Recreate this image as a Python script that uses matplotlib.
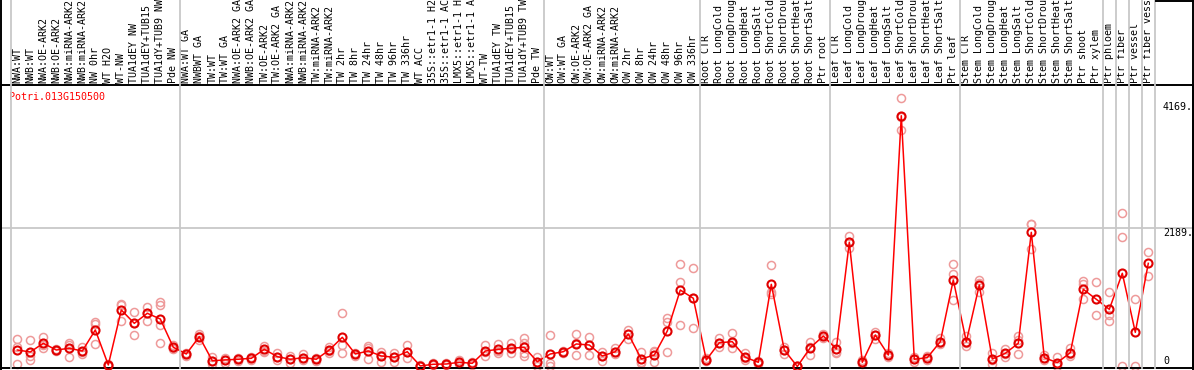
import matplotlib
matplotlib.use("Agg")
import matplotlib.pyplot as plt
from matplotlib.lines import Line2D
from matplotlib.transforms import blended_transform_factory

gene = "Potri.013G150500"

samples = [
    "NWA:WT", "NWB:WT", "NWA:OE-ARK2", "NWB:OE-ARK2", "NWA:miRNA-ARK2", "NWB:miRNA-ARK2",
    "NW 0hr", "WT H2O", "WT-NW", "TUA1dEY NW", "TUA1dEY+TUB15 NW", "TUA1dY+TUB9 NW", "Pde NW",
    "NWA:WT GA", "NWBWT GA", "TW:WT", "TW:WT GA", "NWA:OE-ARK2 GA", "NWB:OE-ARK2 GA",
    "TW:OE-ARK2", "TW:OE-ARK2 GA", "NWA:miRNA-ARK2", "NWB:miRNA-ARK2", "TW:miRNA-ARK2",
    "TW:miRNA-ARK2", "TW 2hr", "TW 8hr", "TW 24hr", "TW 48hr", "TW 96hr", "TW 336hr",
    "WT ACC", "35S::etr1-1 H2O", "35S::etr1-1 ACC", "LMX5::etr1-1 H2O", "LMX5::etr1-1 ACC",
    "WT-TW", "TUA1dEY TW", "TUA1dEY+TUB15 TW", "TUA1dY+TUB9 TW", "Pde TW",
    "OW:WT", "OW:WT GA", "OW:OE-ARK2", "OW:OE-ARK2 GA", "OW:miRNA-ARK2", "OW:miRNA-ARK2",
    "OW 2hr", "OW 8hr", "OW 24hr", "OW 48hr", "OW 96hr", "OW 336hr",
    "Root CTR", "Root LongCold", "Root LongDrought", "Root LongHeat", "Root LongSalt",
    "Root ShortCold", "Root ShortDrought", "Root ShortHeat", "Root ShortSalt", "Ptr root",
    "Leaf CTR", "Leaf LongCold", "Leaf LongDrought", "Leaf LongHeat", "Leaf LongSalt",
    "Leaf ShortCold", "Leaf ShortDrought", "Leaf ShortHeat", "Leaf ShortSalt", "Ptr leaf",
    "Stem CTR", "Stem LongCold", "Stem LongDrought", "Stem LongHeat", "Stem LongSalt",
    "Stem ShortCold", "Stem ShortDrought", "Stem ShortHeat", "Stem ShortSalt",
    "Ptr shoot", "Ptr xylem", "Ptr phloem", "Ptr fiber", "Ptr vessel", "Ptr fiber vessel",
]

means = [
    260, 229, 366, 260, 287, 244, 576, 24, 891, 681, 839, 749, 303,
    197, 470, 91, 103, 114, 129, 271, 155, 114, 139, 114, 260, 460, 197, 244, 166, 145, 233,
    8, 35, 39, 66, 50, 244, 271, 287, 303, 76,
    197, 233, 355, 339, 166, 233, 513, 118, 181, 560, 1206, 1076,
    103, 375, 391, 145, 66, 1296, 260, 0, 296, 481,
    276, 1959, 66, 497, 181, 3955, 114, 139, 391, 1364,
    391, 1285, 118, 208, 366, 2116, 139, 60, 218, 1217, 1060,
    902, 1470, 539, 1627,
]

replicates = [
    [429, 312, 35], [418, 166, 103], [470, 292, 339], [276, 244, 260], [366, 155, 339],
    [312, 197, 229], [707, 670, 355], [39, 8, 16], [970, 722, 986], [864, 497, 686],
    [943, 722, 844], [1022, 970, 654, 375], [339, 276, 292],
    [197, 218, 173], [508, 418, 481], [150, 39, 87], [134, 55, 110], [134, 87, 118],
    [150, 103, 134], [328, 229, 252], [218, 103, 150], [166, 55, 118], [197, 103, 134],
    [134, 87, 118], [312, 218, 252], [839, 339, 208], [218, 173, 197], [328, 114, 292],
    [233, 76, 181], [218, 76, 142], [339, 129, 229],
    [0, 16, 8], [47, 16, 39], [55, 24, 39], [95, 39, 63], [76, 24, 50],
    [339, 166, 229], [355, 208, 249], [375, 208, 276], [445, 375, 208, 166], [155, 0, 71],
    [497, 50, 8], [249, 218, 233], [513, 181, 375], [460, 181, 339], [233, 87, 166],
    [287, 197, 221], [576, 429, 513], [233, 66, 55], [249, 66, 229], [760, 707, 224],
    [1616, 1337, 650], [1549, 602, 1076],
    [126, 87, 95], [445, 312, 375], [524, 296, 363], [208, 103, 134], [87, 39, 71],
    [1601, 1180, 1143], [312, 197, 260], [2, 0, 4], [391, 181, 308], [513, 449, 481],
    [391, 213, 229], [2058, 1864, 1959], [103, 39, 66], [549, 429, 497], [213, 150, 181],
    [4230, 3730, 3935], [142, 76, 118], [173, 103, 139], [445, 355, 378], [1612, 1454, 1049],
    [481, 328, 371], [1364, 1180, 1317], [218, 39, 103], [271, 150, 197], [481, 192, 418],
    [2243, 1853, 2252], [181, 103, 134], [145, 0, 39], [287, 166, 197],
    [1348, 1296, 1060], [1328, 807],
    [1170, 807, 722], [2416, 2037, 0], [1060, 13], [1801, 1427],
]

# index positions after which a group separator is drawn
group_breaks = [-0.5, 12.5, 40.5, 52.5, 62.5, 72.5, 83.5, 84.5, 85.5, 86.5, 87.5]
y_ticks = [0, 2189, 4169]
y_tick_labels = ["0", "2189.", "4169."]

W, H = 1194, 370
fig = plt.figure(figsize=(W / 100, H / 100), dpi=100)
mono = "DejaVu Sans Mono"
fs = 7.2

# axes: x from px 1 to 1193, y from px 85 to 368
ax = fig.add_axes([1 / W, (H - 368) / H, 1192 / W, 283 / H])
step = 13.0
x0 = 17.3
ax.set_xlim((1 - x0) / step, (1193 - x0) / step)
ax.set_ylim(-24, 4440)
ax.set_xticks([])
ax.set_yticks([])
for s in ["left", "bottom", "top", "right"]:
    ax.spines[s].set_color("black")
    ax.spines[s].set_linewidth(1.4)

xs = list(range(len(samples)))

# gridline
ax.axhline(2189, color="#c8c8c8", lw=1.3, zorder=1)

# group separators extend into the label area
trans = blended_transform_factory(ax.transData, fig.transFigure)
for b in group_breaks:
    fig.add_artist(Line2D([b, b], [2 / H, 1.0], transform=trans, color="#c8c8c8", lw=1.3, zorder=1))

# top box on right
fig.add_artist(Line2D([1156 / W, 1.0], [1 - 0.5 / H, 1 - 0.5 / H], transform=fig.transFigure,
                      color="black", lw=1.4))
fig.add_artist(Line2D([1 / W, 1 / W], [0, 1], transform=fig.transFigure, color="black", lw=1.4))
fig.add_artist(Line2D([1193 / W, 1193 / W], [0, 1], transform=fig.transFigure, color="black", lw=1.4))

# replicates
for x, reps in zip(xs, replicates):
    ax.plot([x] * len(reps), reps, linestyle="none", marker="o", ms=5.8, mfc="none",
            mec="#ee9a9a", mew=1.1, zorder=2, clip_on=False)

# mean line
ax.plot(xs, means, color="#ff0000", lw=1.1, zorder=3)
ax.plot(xs, means, linestyle="none", marker="o", ms=5.8, mfc="none", mec="#e00000",
        mew=1.5, zorder=4, clip_on=False)

# sample labels
lab_y = 1 - 83 / H
for x, lab in zip(xs, samples):
    ax.text(x, lab_y, lab, transform=trans, rotation=90, ha="center", va="bottom",
            family=mono, fontsize=fs, color="black", rotation_mode="default", clip_on=False)

# right tick labels
tx = (1163 - x0) / step
ax.text(tx, 4169, "4169.", ha="left", va="top", family=mono, fontsize=fs, color="black")
ax.text(tx, 2189, "2189.", ha="left", va="top", family=mono, fontsize=fs, color="black")
ax.text(tx, 0, "0", ha="left", va="bottom", family=mono, fontsize=fs, color="black")

# gene title
ax.text(9 / W, 1 - 97 / H, gene, transform=fig.transFigure, ha="left", va="center",
        family=mono, fontsize=fs, color="#ff0000")

fig.savefig("out.png", dpi=100)
